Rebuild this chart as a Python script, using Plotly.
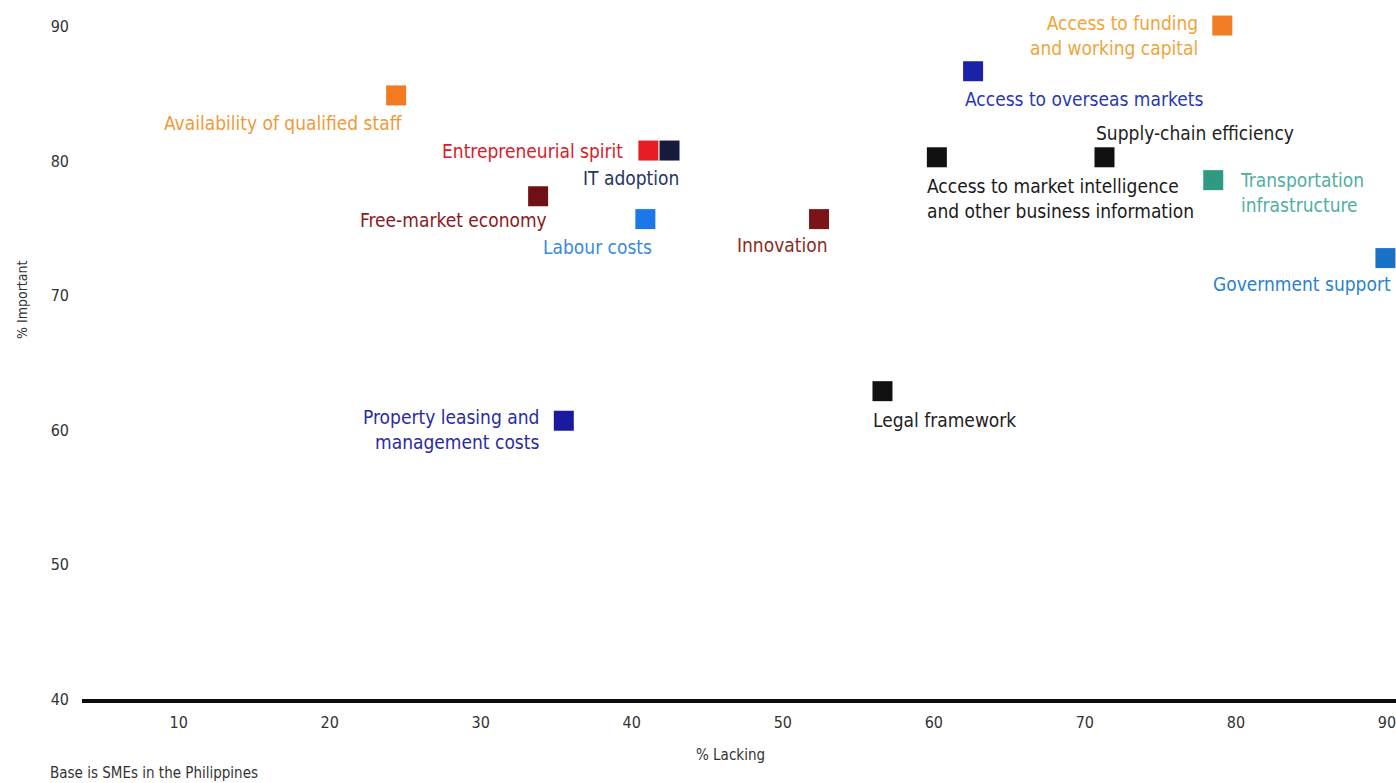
import plotly.graph_objects as go

# SME business factors: share saying the factor is lacking vs. share rating it important
factors = [
    "Availability of qualified staff",
    "Access to funding<br>and working capital",
    "Access to overseas markets",
    "Entrepreneurial spirit",
    "IT adoption",
    "Access to market intelligence<br>and other business information",
    "Supply-chain efficiency",
    "Transportation<br>infrastructure",
    "Free-market economy",
    "Labour costs",
    "Innovation",
    "Government support",
    "Legal framework",
    "Property leasing and<br>management costs",
]
pct_lacking = [24.4, 79.1, 62.6, 41.1, 42.5, 60.2, 71.3, 78.5, 33.8, 40.9, 52.4, 89.9, 56.6, 35.5]
pct_important = [84.9, 90.1, 86.7, 80.8, 80.8, 80.3, 80.3, 78.6, 77.4, 75.7, 75.7, 72.8, 62.9, 60.7]

x_ticks = [10, 20, 30, 40, 50, 60, 70, 80, 90]
y_ticks = [40, 50, 60, 70, 80, 90]

# styling per factor
marker_colors = ["#f47a20", "#f07e22", "#1a22a8", "#e81c24", "#161a3c", "#111111", "#111111",
                 "#2f9a82", "#6e1014", "#1a78e8", "#7a1416", "#1a72c8", "#111111", "#1a1aa0"]
label_colors = ["#ee9a3a", "#f0a43a", "#2a3aae", "#d8202a", "#26345e", "#1a1a1a", "#222222",
                "#52aea0", "#8a1a22", "#3a8ada", "#8a2a20", "#2a82cc", "#222222", "#2a2aa8"]
# label placement relative to its marker: (xanchor, xshift, yshift, align)
label_place = [
    ("right", 9, -28, "right"),
    ("right", -22, -10, "right"),
    ("left", -10, -28, "left"),
    ("right", -23, 0, "right"),
    ("right", 11, -27, "right"),
    ("left", -12, -41, "left"),
    ("left", -11, 24, "left"),
    ("left", 25, -12, "left"),
    ("right", 11, -24, "right"),
    ("right", 9, -28, "right"),
    ("right", 11, -26, "right"),
    ("right", 8, -26, "right"),
    ("left", -11, -29, "left"),
    ("right", -23, -9, "right"),
]

FONT = "Liberation Sans Narrow, DejaVu Sans Condensed, Roboto Condensed, Liberation Sans, sans-serif"

fig = go.Figure()
fig.add_trace(go.Scatter(
    x=pct_lacking, y=pct_important, mode="markers",
    marker=dict(symbol="square", size=20, color=marker_colors, line=dict(width=0)),
    hovertext=[f.replace("<br>", " ") for f in factors], hoverinfo="text+x+y",
    cliponaxis=False, showlegend=False,
))

for name, xv, yv, col, (xa, xs, ys, al) in zip(factors, pct_lacking, pct_important, label_colors, label_place):
    fig.add_annotation(
        x=xv, y=yv, xref="x", yref="y", text=name, showarrow=False,
        xanchor=xa, yanchor="middle", xshift=xs, yshift=ys, align=al,
        font=dict(family=FONT, size=19, color=col),
    )

# axis titles and base note (placed in paper coordinates)
fig.add_annotation(x=(730 - 82) / 1314, y=(699 - 755) / 699, xref="paper", yref="paper",
                   text="% Lacking", showarrow=False, xanchor="center", yanchor="middle",
                   font=dict(family=FONT, size=15, color="#333333"))
fig.add_annotation(x=(22 - 82) / 1314, y=(699 - 300) / 699, xref="paper", yref="paper",
                   text="% Important", showarrow=False, textangle=-90,
                   xanchor="center", yanchor="middle",
                   font=dict(family=FONT, size=14, color="#333333"))
fig.add_annotation(x=(48 - 82) / 1314, y=(699 - 773) / 699, xref="paper", yref="paper",
                   text="Base is SMEs in the Philippines", showarrow=False,
                   xanchor="left", yanchor="middle",
                   font=dict(family=FONT, size=15, color="#333333"))

fig.update_layout(
    width=1396, height=783,
    margin=dict(l=82, r=0, t=0, b=84),
    paper_bgcolor="white", plot_bgcolor="white",
    font=dict(family=FONT, color="#333333"),
    xaxis=dict(range=[3.6, 90.6], tickvals=x_ticks, showgrid=False, zeroline=False,
               showline=True, linecolor="#0d0d0d", linewidth=3.5, ticks="",
               ticklabelstandoff=6, ticklabeloverflow="allow",
               tickfont=dict(family=FONT, size=16, color="#333333")),
    yaxis=dict(range=[40, 92], tickvals=y_ticks, showgrid=False, zeroline=False,
               showline=False, ticks="", ticklabelstandoff=12,
               tickfont=dict(family=FONT, size=16, color="#333333")),
)

fig.write_html("out.html")
